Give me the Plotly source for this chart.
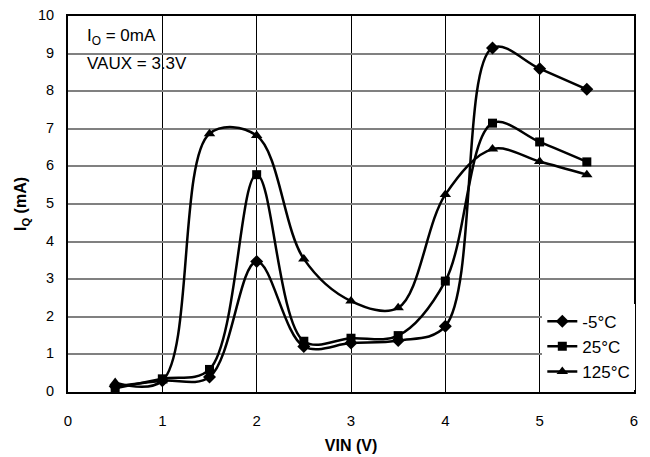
import plotly.graph_objects as go

vin = [0.5, 1.0, 1.5, 2.0, 2.5, 3.0, 3.5, 4.0, 4.5, 5.0, 5.5]
iq_m5 = [0.15, 0.30, 0.40, 3.47, 1.21, 1.30, 1.37, 1.75, 9.15, 8.60, 8.05]
iq_25 = [0.10, 0.35, 0.60, 5.78, 1.35, 1.43, 1.50, 2.95, 7.15, 6.65, 6.12]
iq_125 = [0.25, 0.30, 6.87, 6.82, 3.54, 2.42, 2.24, 5.25, 6.46, 6.13, 5.78]
series_names = ["-5°C", "25°C", "125°C"]
symbols = ["diamond", "square", "triangle-up"]
x_ticks = [0, 1, 2, 3, 4, 5, 6]
y_ticks = list(range(0, 11))

fig = go.Figure()
for name, ys, sym, sz in zip(series_names, [iq_m5, iq_25, iq_125], symbols, [10, 9, 10]):
    fig.add_trace(go.Scatter(
        x=vin, y=ys, name=name, mode="lines+markers",
        line=dict(color="black", width=2.5, shape="spline", smoothing=1.0),
        marker=dict(symbol=sym, size=sz, color="black"),
    ))

font = "Liberation Sans, Arial, sans-serif"
# page body has an 8px margin, so the figure is 642x449 and offset by 8px
fig.update_layout(
    width=642, height=449,
    margin=dict(l=60, r=16, t=8, b=65),
    paper_bgcolor="white", plot_bgcolor="white",
    font=dict(family=font, size=15, color="black"),
    showlegend=True,
    legend=dict(x=0.838, y=0.235, xanchor="left", yanchor="top",
                bgcolor="white", borderwidth=0, itemwidth=30,
                font=dict(size=17), tracegroupgap=0),
    xaxis=dict(range=[0, 6], tickvals=x_ticks, showgrid=True, gridcolor="black",
               gridwidth=1, showline=True, linecolor="black", linewidth=2, mirror=True,
               ticks="", zeroline=False, automargin=False, ticklabelstandoff=14,
               title=dict(text="<b>VIN (V)</b>", font=dict(size=16), standoff=12)),
    yaxis=dict(range=[0, 10], tickvals=y_ticks, showgrid=True, gridcolor="#808080",
               gridwidth=2, showline=True, linecolor="black", linewidth=2, mirror=True,
               ticks="", zeroline=False, automargin=False, ticklabelstandoff=9,
               ticklabelshift=-1, ticklabeloverflow="allow", tickfont=dict(size=14.5),
               title=dict(text="<b>I<sub>Q</sub> (mA)</b>", font=dict(size=16), standoff=7)),
)
fig.add_shape(type="rect", xref="paper", yref="paper", x0=0.016, x1=0.233,
              y0=0.842, y1=0.9815, fillcolor="white", line=dict(width=0), layer="between")
fig.add_annotation(
    xref="paper", yref="paper", x=0.030, y=0.944, xanchor="left", yanchor="middle",
    text="I<sub>O</sub> = 0mA", showarrow=False, align="left", font=dict(size=17),
)
fig.add_annotation(
    xref="paper", yref="paper", x=0.030, y=0.873, xanchor="left", yanchor="middle",
    text="VAUX = 3.3V", showarrow=False, align="left", font=dict(size=17),
)
fig.write_html("out.html")
